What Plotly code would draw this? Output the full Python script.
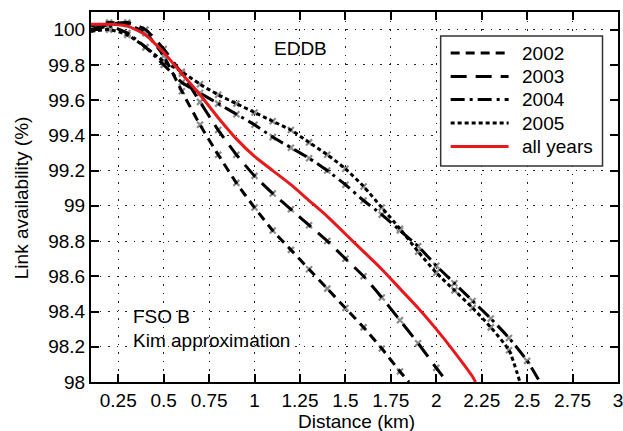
import plotly.graph_objects as go

# Distance (km) / availability (%) for each series
x_2002 = [0.1, 0.2, 0.3, 0.4, 0.5, 0.6, 0.7, 0.8, 0.9, 1.0, 1.1, 1.2, 1.3, 1.4, 1.5, 1.6, 1.7, 1.8, 1.85]
y_2002 = [100.02, 100.04, 100.03, 99.98, 99.85, 99.65, 99.46, 99.29, 99.13, 98.99, 98.86, 98.75, 98.64, 98.53, 98.42, 98.31, 98.19, 98.06, 98.0]

x_2003 = [0.1, 0.2, 0.3, 0.4, 0.5, 0.6, 0.7, 0.8, 0.9, 1.0, 1.1, 1.2, 1.3, 1.4, 1.5, 1.6, 1.7, 1.8, 1.9, 2.0, 2.06]
y_2003 = [100.0, 100.03, 100.04, 100.0, 99.89, 99.75, 99.59, 99.43, 99.29, 99.17, 99.07, 98.98, 98.89, 98.80, 98.70, 98.60, 98.48, 98.35, 98.22, 98.08, 98.0]

x_2004 = [0.1, 0.2, 0.3, 0.4, 0.5, 0.6, 0.7, 0.8, 0.9, 1.0, 1.1, 1.2, 1.3, 1.4, 1.5, 1.6, 1.7, 1.8, 1.9, 2.0, 2.1, 2.2, 2.3, 2.4, 2.5, 2.57]
y_2004 = [99.99, 100.02, 99.98, 99.90, 99.80, 99.70, 99.64, 99.58, 99.52, 99.46, 99.39, 99.33, 99.27, 99.20, 99.12, 99.03, 98.95, 98.86, 98.77, 98.66, 98.56, 98.46, 98.36, 98.25, 98.12, 98.0]

x_2005 = [0.1, 0.2, 0.3, 0.4, 0.5, 0.6, 0.7, 0.8, 0.9, 1.0, 1.1, 1.2, 1.3, 1.4, 1.5, 1.6, 1.7, 1.8, 1.9, 2.0, 2.1, 2.2, 2.3, 2.4, 2.46]
y_2005 = [99.99, 100.0, 99.97, 99.90, 99.82, 99.76, 99.69, 99.63, 99.58, 99.53, 99.48, 99.43, 99.36, 99.29, 99.21, 99.11, 98.99, 98.87, 98.74, 98.62, 98.52, 98.42, 98.31, 98.18, 98.0]

x_all = [0.1, 0.2, 0.3, 0.4, 0.5, 0.6, 0.7, 0.8, 0.9, 1.0, 1.1, 1.2, 1.3, 1.4, 1.5, 1.6, 1.7, 1.8, 1.9, 2.0, 2.1, 2.2, 2.216]
y_all = [100.03, 100.03, 100.02, 99.97, 99.87, 99.75, 99.63, 99.50, 99.38, 99.28, 99.20, 99.12, 99.03, 98.94, 98.84, 98.74, 98.64, 98.53, 98.42, 98.30, 98.17, 98.03, 98.0]

series_names = ["2002", "2003", "2004", "2005", "all years"]
x_tickvals = [0.25, 0.5, 0.75, 1, 1.25, 1.5, 1.75, 2, 2.25, 2.5, 2.75, 3]
x_ticktext = ["0.25", "0.5", "0.75", "1", "1.25", "1.5", "1.75", "2", "2.25", "2.5", "2.75", "3"]
y_tickvals = [98, 98.2, 98.4, 98.6, 98.8, 99, 99.2, 99.4, 99.6, 99.8, 100]
y_ticktext = ["98", "98.2", "98.4", "98.6", "98.8", "99", "99.2", "99.4", "99.6", "99.8", "100"]

FONT = "Liberation Sans, Arial, sans-serif"
RED = "#e8191c"
W, H = 623, 431
ML, MR, MT, MB = 91, 4.5, 12, 49.3
PW, PH = W - ML - MR, H - MT - MB


def px(xp):
    return (xp - ML) / PW


def py(yp):
    return (H - MB - yp) / PH


fig = go.Figure()

dashes = ["9px,6px", "16px,9px", "14px,5px,3px,5px", "4px,3px"]
black_series = [(x_2002, y_2002), (x_2003, y_2003), (x_2004, y_2004), (x_2005, y_2005)]

# gray measurement markers under the lines
for xs, ys in black_series:
    fig.add_trace(go.Scatter(
        x=xs[1:-1], y=ys[1:-1], mode="markers", showlegend=False, hoverinfo="skip",
        marker=dict(symbol="x-thin", size=6, color="#8c8c8c", line=dict(color="#8c8c8c", width=2.2)),
    ))

for (xs, ys), name, dash in zip(black_series, series_names, dashes):
    fig.add_trace(go.Scatter(
        x=xs, y=ys, mode="lines", name=name, showlegend=False,
        line=dict(color="black", width=3, dash=dash, shape="spline", smoothing=0.6),
    ))

fig.add_trace(go.Scatter(
    x=x_all, y=y_all, mode="lines", name=series_names[4], showlegend=False,
    line=dict(color=RED, width=3, shape="spline", smoothing=0.6),
))

axis_common = dict(
    showline=True, linecolor="black", linewidth=2, mirror="ticks",
    ticks="inside", ticklen=8, tickwidth=1.5, tickcolor="black",
    showgrid=True, gridcolor="#222", gridwidth=1.4, griddash="1.5px,7px",
    zeroline=False, automargin=False, ticklabeloverflow="allow",
    tickfont=dict(family=FONT, size=19, color="black"),
)

fig.update_xaxes(
    range=[0.1, 3.0], tickmode="array", tickvals=x_tickvals, ticktext=x_ticktext,
    **axis_common,
)
fig.update_yaxes(
    range=[98, 100.1], tickmode="array", tickvals=y_tickvals, ticktext=y_ticktext,
    **axis_common,
)

txt_font = dict(family=FONT, size=19, color="black")
fig.add_annotation(xref="paper", yref="paper", x=px(21), y=py(198), text="Link availability (%)",
                   textangle=-90, showarrow=False, xanchor="center", yanchor="middle", font=txt_font)
fig.add_annotation(xref="paper", yref="paper", x=px(357), y=py(421), text="Distance (km)",
                   showarrow=False, xanchor="center", yanchor="middle", font=txt_font)
fig.add_annotation(xref="paper", yref="paper", x=px(300.5), y=py(48), text="EDDB", showarrow=False,
                   xanchor="center", yanchor="middle", font=txt_font)
fig.add_annotation(xref="paper", yref="paper", x=px(131), y=py(316.5), text="FSO B", showarrow=False,
                   xanchor="left", yanchor="middle", font=txt_font)
fig.add_annotation(xref="paper", yref="paper", x=px(131), y=py(340), text="Kim approximation",
                   showarrow=False, xanchor="left", yanchor="middle", font=txt_font)

# legend box drawn by hand to match the reference proportions
shapes = [dict(type="rect", xref="paper", yref="paper", x0=px(441), x1=px(603), y0=py(36), y1=py(166),
               line=dict(color="#333333", width=1.5), fillcolor="white", layer="above")]
rows = [53, 76.5, 99.5, 123, 146.5]
leg_dash = dashes + ["solid"]
leg_color = ["black"] * 4 + [RED]
for name, yr, dash, col in zip(series_names, rows, leg_dash, leg_color):
    shapes.append(dict(type="line", xref="paper", yref="paper", x0=px(451), x1=px(509), y0=py(yr), y1=py(yr),
                       line=dict(color=col, width=3, dash=dash), layer="above"))
    fig.add_annotation(xref="paper", yref="paper", x=px(520), y=py(yr), text=name, showarrow=False,
                       xanchor="left", yanchor="middle", font=txt_font)

fig.update_layout(
    width=W, height=H,
    margin=dict(l=ML, r=MR, t=MT, b=MB, autoexpand=False),
    paper_bgcolor="white", plot_bgcolor="white",
    font=dict(family=FONT, size=19, color="black"),
    shapes=shapes,
    showlegend=False,
)

fig.write_html("out.html")
